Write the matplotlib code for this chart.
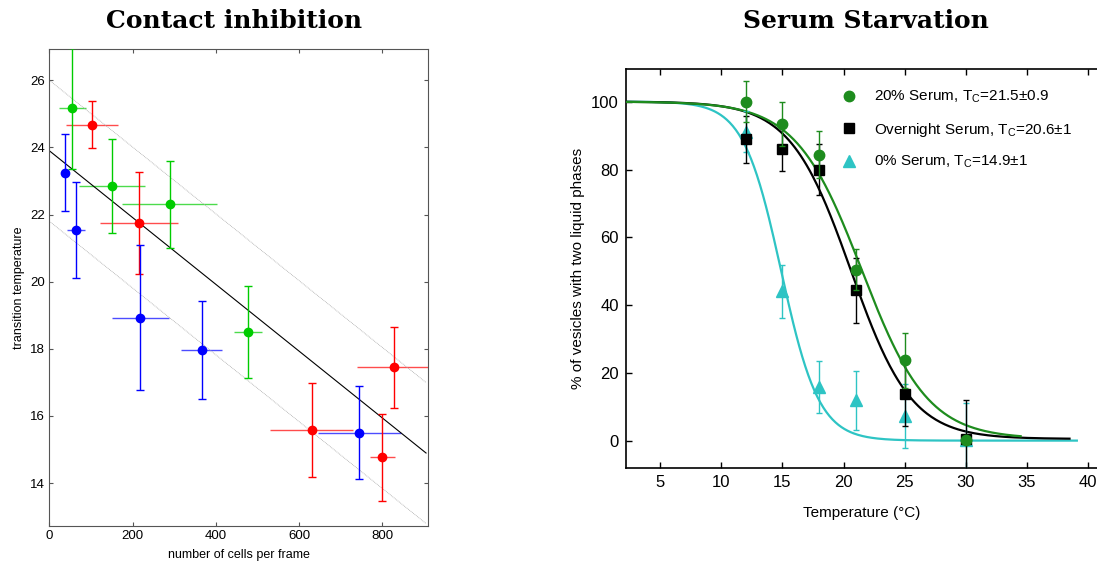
import numpy as np
import matplotlib
matplotlib.use('Agg')
import matplotlib.pyplot as plt
from matplotlib.lines import Line2D

plt.rcParams['font.family'] = ['Liberation Sans', 'DejaVu Sans']
plt.rcParams['mathtext.default'] = 'regular'

# ---- contact inhibition data
green_x = [55, 151, 289, 478]
green_y = [25.17, 22.84, 22.30, 18.50]
green_xerr = [32, 80, 115, 34]
green_yerr = [1.8, 1.4, 1.3, 1.37]

red_x = [102, 215, 630, 800, 828]
red_y = [24.68, 21.75, 15.58, 14.77, 17.45]
red_xerr = [63, 93, 99, 30, 90]
red_yerr = [0.7, 1.52, 1.4, 1.3, 1.2]

blue_x = [38, 64, 219, 366, 745]
blue_y = [23.24, 21.54, 18.93, 17.96, 15.50]
blue_xerr = [0, 22, 69, 50, 100]
blue_yerr = [1.15, 1.43, 2.17, 1.47, 1.39]

fit_intercept = 23.9
fit_slope = -0.00995
fit_band = 2.1
fit_xmax = 905

# ---- serum starvation data
temps = [12, 15, 18, 21, 25, 30]
serum20 = [100, 93.4, 84.4, 50.5, 23.8, 0.5]
serum20_err = [6, 6.6, 7, 6, 8, 0]
overnight = [88.9, 86.1, 79.9, 44.4, 13.9, 0.7]
overnight_err = [7, 6.5, 7.5, 9.6, 9.3, 11.6]
serum0 = [91.2, 44.1, 16.0, 12.1, 7.4, 0.3]
serum0_err = [6, 7.7, 7.6, 8.7, 9.4, 11]

# sigmoid fit params: Tc, width, baseline, end of curve
fit20 = (21.5, 2.7, 0.7, 34.5)
fit_on = (20.6, 2.48, 0.7, 38.5)
fit0 = (14.9, 1.55, 0.2, 39.1)

W, H = 1097, 563
fig = plt.figure(figsize=(W / 100, H / 100), dpi=100)


def px_axes(left, top, right, bottom):
    return fig.add_axes([left / W, 1 - bottom / H, (right - left) / W, (bottom - top) / H])


# ================= left panel
ax1 = px_axes(49.3, 49, 427.7, 525.7)
for xs, ys, xe, ye, c in [(green_x, green_y, green_xerr, green_yerr, '#00cc00'),
                          (red_x, red_y, red_xerr, red_yerr, '#ff0000'),
                          (blue_x, blue_y, blue_xerr, blue_yerr, '#0000ff')]:
    ax1.errorbar(xs, ys, xerr=xe, fmt='none', ecolor=c, elinewidth=1, alpha=0.7, capsize=0)
    ax1.errorbar(xs, ys, yerr=ye, fmt='o', color=c, ecolor=c, elinewidth=1,
                 capsize=3, capthick=1, markersize=6, zorder=3)

xf = np.array([0, fit_xmax])
ax1.plot(xf, fit_intercept + fit_slope * xf, color='black', lw=0.8)
ax1.plot(xf, fit_intercept + fit_band + fit_slope * xf, color='#aaaaaa', lw=0.6, ls=(0, (1, 1)))
ax1.plot(xf, fit_intercept - fit_band + fit_slope * xf, color='#aaaaaa', lw=0.6, ls=(0, (1, 1)))

ax1.set_xlim(0, 909)
ax1.set_ylim(12.73, 26.93)
ax1.set_xticks([0, 200, 400, 600, 800])
ax1.set_yticks([14, 16, 18, 20, 22, 24, 26])
ax1.tick_params(direction='in', top=True, right=True, length=3, width=0.8,
                color='#555555', labelsize=9.5, pad=3)
for s in ax1.spines.values():
    s.set_color('#555555')
    s.set_linewidth(0.8)
ax1.set_xlabel('number of cells per frame', fontsize=9, labelpad=5)
ax1.set_ylabel('transition temperature', fontsize=9, labelpad=4)

fig.text(234 / W, 1 - 21 / H, 'Contact inhibition', family=['DejaVu Serif'],
         weight='bold', fontsize=18, ha='center', va='center')

# ================= right panel
ax2 = px_axes(625.7, 69, 1097, 468.3)
col20, colon, col0 = '#1e8c1e', 'black', '#2ec4c4'


def sigmoid(T, tc, w, base):
    return base + (100 - base) / (1 + np.exp((T - tc) / w))


for (tc, w, base, tend), c, z in [(fit0, col0, 2), (fit_on, colon, 3), (fit20, col20, 4)]:
    T = np.linspace(2.17, tend, 300)
    ax2.plot(T, sigmoid(T, tc, w, base), color=c, lw=1.6, zorder=z)

ax2.errorbar(temps, serum0, yerr=serum0_err, fmt='^', color=col0, ecolor=col0, markersize=8,
             elinewidth=1, capsize=2.5, capthick=1, zorder=5)
ax2.errorbar(temps, overnight, yerr=overnight_err, fmt='s', color=colon, ecolor=colon, markersize=7.5,
             elinewidth=1, capsize=2.5, capthick=1, zorder=6)
ax2.errorbar(temps, serum20, yerr=serum20_err, fmt='o', color=col20, ecolor=col20, markersize=7.5,
             elinewidth=1, capsize=2.5, capthick=1, zorder=7)

ax2.set_xlim(2.17, 40.75)
ax2.set_ylim(-7.95, 109.6)
ax2.set_xticks([5, 10, 15, 20, 25, 30, 35, 40])
ax2.set_yticks([0, 20, 40, 60, 80, 100])
ax2.tick_params(direction='in', top=True, length=4, width=1, labelsize=12, pad=5)
ax2.spines['right'].set_visible(False)
for s in ['left', 'bottom', 'top']:
    ax2.spines[s].set_linewidth(1.2)
ax2.set_xlabel('Temperature (\u00b0C)', fontsize=11, labelpad=11)
ax2.set_ylabel('% of vesicles with two liquid phases', fontsize=11, labelpad=4)

handles = [Line2D([], [], ls='none', marker='o', color=col20, markersize=7.5),
           Line2D([], [], ls='none', marker='s', color=colon, markersize=7.5),
           Line2D([], [], ls='none', marker='^', color=col0, markersize=8)]
labels = ['20% Serum, T$_{C}$=21.5\u00b10.9',
          'Overnight Serum, T$_{C}$=20.6\u00b11',
          '0% Serum, T$_{C}$=14.9\u00b11']
ax2.legend(handles, labels, loc='upper left', bbox_to_anchor=(841 / W, 1 - 89 / H),
           bbox_transform=fig.transFigure, frameon=False, fontsize=11, handlelength=1,
           handletextpad=1.15, labelspacing=1.0, borderpad=0, borderaxespad=0)

fig.text(866 / W, 1 - 21 / H, 'Serum Starvation', family=['DejaVu Serif'],
         weight='bold', fontsize=18, ha='center', va='center')

fig.savefig('out.png', dpi=100)
